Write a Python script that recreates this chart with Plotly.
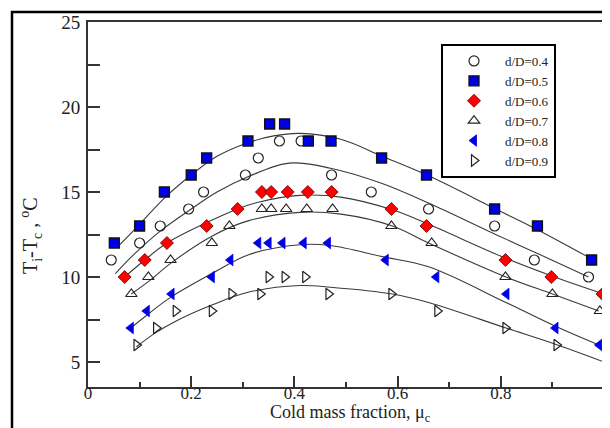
import plotly.graph_objects as go

# ---------------- data ----------------
series_names = ["d/D=0.4", "d/D=0.5", "d/D=0.6", "d/D=0.7", "d/D=0.8", "d/D=0.9"]

x_04 = [0.045, 0.1, 0.14, 0.195, 0.224, 0.305, 0.33, 0.371, 0.413, 0.472, 0.549, 0.66, 0.788, 0.865, 0.97]
y_04 = [11, 12, 13, 14, 15, 16, 17, 18, 18, 16, 15, 14, 13, 11, 10]

x_05 = [0.051, 0.1, 0.148, 0.2, 0.23, 0.31, 0.352, 0.381, 0.427, 0.471, 0.569, 0.656, 0.788, 0.871, 0.976]
y_05 = [12, 13, 15, 16, 17, 18, 19, 19, 18, 18, 17, 16, 14, 13, 11]

x_06 = [0.071, 0.11, 0.153, 0.23, 0.29, 0.337, 0.355, 0.387, 0.426, 0.472, 0.588, 0.656, 0.809, 0.898, 0.997]
y_06 = [10, 11, 12, 13, 14, 15, 15, 15, 15, 15, 14, 13, 11, 10, 9]

x_07 = [0.084, 0.117, 0.16, 0.24, 0.274, 0.337, 0.355, 0.384, 0.424, 0.474, 0.588, 0.666, 0.809, 0.9, 0.992]
y_07 = [9, 10, 11, 12, 13, 14, 14, 14, 14, 14, 13, 12, 10, 9, 8]

x_08 = [0.083, 0.114, 0.162, 0.24, 0.276, 0.33, 0.35, 0.377, 0.418, 0.465, 0.577, 0.675, 0.811, 0.906, 0.991]
y_08 = [7, 8, 9, 10, 11, 12, 12, 12, 12, 12, 11, 10, 9, 7, 6]

x_09 = [0.094, 0.132, 0.17, 0.24, 0.278, 0.334, 0.35, 0.381, 0.421, 0.466, 0.588, 0.677, 0.809, 0.908, 1.003]
y_09 = [6, 7, 8, 8, 9, 9, 10, 10, 10, 9, 9, 8, 7, 6, 5]

# fitted curves
cx_04 = [0.053, 0.088, 0.14, 0.2, 0.25, 0.31, 0.39, 0.47, 0.57, 0.66, 0.79, 0.87, 0.97]
cy_04 = [10.2, 11.3, 12.7, 14.0, 15.0, 15.9, 16.7, 16.4, 15.5, 14.35, 12.5, 11.4, 10.0]

cx_05 = [0.055, 0.1, 0.15, 0.2, 0.25, 0.31, 0.36, 0.41, 0.49, 0.57, 0.66, 0.79, 0.87, 0.98]
cy_05 = [11.7, 13.1, 14.7, 16.0, 17.1, 17.9, 18.3, 18.45, 18.1, 17.1, 15.95, 14.0, 12.8, 11.0]

cx_06 = [0.071, 0.11, 0.153, 0.23, 0.29, 0.33, 0.41, 0.49, 0.59, 0.66, 0.81, 0.9, 1.0]
cy_06 = [10.0, 11.0, 12.0, 13.2, 14.0, 14.4, 14.8, 14.7, 13.95, 13.1, 11.1, 10.05, 9.0]

cx_07 = [0.084, 0.12, 0.16, 0.24, 0.31, 0.41, 0.49, 0.59, 0.66, 0.81, 0.9, 0.99]
cy_07 = [9.0, 9.8, 10.8, 12.4, 13.3, 13.8, 13.7, 13.0, 12.0, 10.0, 9.0, 8.0]

cx_08 = [0.083, 0.12, 0.16, 0.24, 0.31, 0.41, 0.47, 0.57, 0.66, 0.81, 0.906, 0.99]
cy_08 = [7.0, 7.9, 8.8, 10.2, 11.3, 11.9, 11.85, 11.2, 10.6, 8.5, 7.1, 6.0]

cx_09 = [0.094, 0.13, 0.17, 0.24, 0.31, 0.41, 0.47, 0.59, 0.66, 0.81, 0.91, 1.0]
cy_09 = [5.9, 6.7, 7.4, 8.35, 9.1, 9.5, 9.4, 9.0, 8.5, 7.0, 6.0, 5.0]

x_tickvals = [0, 0.2, 0.4, 0.6, 0.8]
x_ticktext = ["0", "0.2", "0.4", "0.6", "0.8"]
y_tickvals = [5, 10, 15, 20, 25]
y_ticktext = ["5", "10", "15", "20", "25"]

x_title = "Cold mass fraction, \u03bc<sub>c</sub>"
y_title = "T<sub>i</sub>-T<sub>c</sub> , <sup>o</sup>C"

# ---------------- styling ----------------
BLUE = "#0000e6"
RED = "#ff0000"
INK = "#333333"
TXT = "#222222"
SERIF = "Liberation Serif, Times New Roman, serif"

points = [(x_04, y_04), (x_05, y_05), (x_06, y_06), (x_07, y_07), (x_08, y_08), (x_09, y_09)]
curves = [(cx_04, cy_04), (cx_05, cy_05), (cx_06, cy_06), (cx_07, cy_07), (cx_08, cy_08), (cx_09, cy_09)]
markers = [
    dict(symbol="circle-open", size=10, color=TXT, line=dict(width=1.2, color=TXT)),
    dict(symbol="square", size=10, color=BLUE, line=dict(width=1.3, color="#111111")),
    dict(symbol="diamond", size=10, color=RED, line=dict(width=0.8, color="#660000")),
    dict(symbol="triangle-up-open", size=10, color=TXT, line=dict(width=1.2, color=TXT)),
    dict(symbol="triangle-left", size=10, color=BLUE, line=dict(width=0.8, color=BLUE)),
    dict(symbol="triangle-right-open", size=10, color=TXT, line=dict(width=1.2, color=TXT)),
]

fig = go.Figure()
for (cx, cy) in curves:
    fig.add_trace(go.Scatter(x=cx, y=cy, mode="lines", line=dict(color="#3a3a3a", width=1.1, shape="spline", smoothing=1.0),
                             showlegend=False, hoverinfo="skip"))
for name, (px, py), mk in zip(series_names, points, markers):
    fig.add_trace(go.Scatter(x=px, y=py, mode="markers", name=name, marker=mk, cliponaxis=False))

# the page body has an 8px margin: the figure starts at (8, 8) in the window
OFF = 8
W, H = 610 - OFF, 428 - OFF
L, T = 88 - OFF, 22 - OFF
B = H - (387 - OFF)
pw, ph = W - L, H - T - B


def px_x(x):  # window x pixel -> paper fraction
    return (x - 88) / pw


def px_y(y):  # window y pixel -> paper fraction
    return (387 - y) / ph


fig.update_layout(
    width=W, height=H,
    margin=dict(l=L, r=0, t=T, b=B, pad=0),
    paper_bgcolor="white", plot_bgcolor="white",
    font=dict(family=SERIF, color=TXT, size=18),
    legend=dict(
        x=px_x(441), y=px_y(44), xanchor="left", yanchor="top",
        bordercolor="black", borderwidth=2, bgcolor="white",
        font=dict(family=SERIF, size=13, color=TXT),
        itemwidth=52, tracegroupgap=0,
    ),
    shapes=[dict(type="rect", xref="paper", yref="paper",
                 x0=px_x(12), x1=1.2, y0=-0.3, y1=px_y(12),
                 line=dict(color="black", width=2.5), fillcolor="rgba(0,0,0,0)", layer="above")],
    annotations=[
        dict(text=x_title, xref="paper", yref="paper", x=px_x(350), y=px_y(427),
             xanchor="center", yanchor="bottom", showarrow=False,
             font=dict(family=SERIF, size=18, color=TXT)),
        dict(text=y_title, xref="paper", yref="paper", x=px_x(31), y=px_y(236),
             xanchor="center", yanchor="middle", showarrow=False, textangle=-90,
             font=dict(family=SERIF, size=20, color=TXT)),
    ],
)

fig.update_xaxes(
    range=[0, pw / 516.0], showgrid=False, zeroline=False,
    showline=True, linecolor=INK, linewidth=2, mirror=True,
    ticks="inside", ticklen=11, tickwidth=1.5, tickcolor=INK,
    tickvals=x_tickvals, ticktext=x_ticktext,
    tickfont=dict(family=SERIF, size=17, color=TXT),
    ticklabelstandoff=-10,
    minor=dict(dtick=0.1, tick0=0, ticks="inside", ticklen=5, tickwidth=1.5, tickcolor=INK, showgrid=False),
    automargin=False,
)
fig.update_yaxes(
    range=[25 - ph / 17.0, 25], showgrid=False, zeroline=False,
    showline=True, linecolor=INK, linewidth=2, mirror=False,
    ticks="inside", ticklen=12, tickwidth=1.5, tickcolor=INK,
    tickvals=y_tickvals, ticktext=y_ticktext,
    tickfont=dict(family=SERIF, size=19, color=TXT),
    ticklabelstandoff=2,
    minor=dict(dtick=2.5, tick0=0, ticks="inside", ticklen=12, tickwidth=1.5, tickcolor=INK, showgrid=False),
    automargin=False,
)

fig.write_html("out.html")
